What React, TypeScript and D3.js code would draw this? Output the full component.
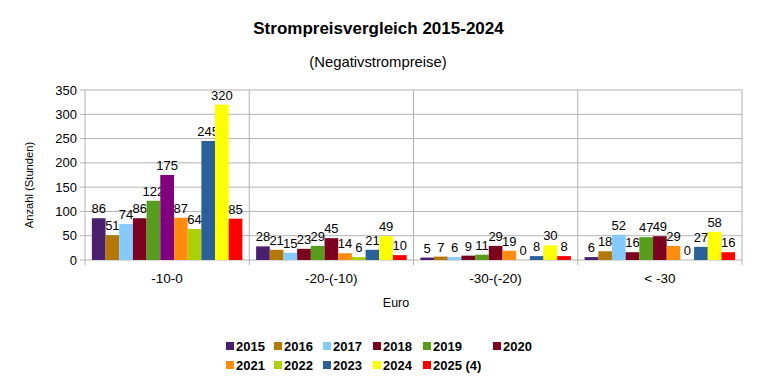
import React from "react";
import * as d3 from "d3";

const categories = ["-10-0", "-20-(-10)", "-30-(-20)", "< -30"];
const seriesNames = ["2015", "2016", "2017", "2018", "2019", "2020", "2021", "2022", "2023", "2024", "2025 (4)"];
const s2015 = [86, 28, 5, 6];
const s2016 = [51, 21, 7, 18];
const s2017 = [74, 15, 6, 52];
const s2018 = [86, 23, 9, 16];
const s2019 = [122, 29, 11, 47];
const s2020 = [175, 45, 29, 49];
const s2021 = [87, 14, 19, 29];
const s2022 = [64, 6, 0, 0];
const s2023 = [245, 21, 8, 27];
const s2024 = [320, 49, 30, 58];
const s2025 = [85, 10, 8, 16];
const seriesValues = [s2015, s2016, s2017, s2018, s2019, s2020, s2021, s2022, s2023, s2024, s2025];
const colors = ["#4b1f6f", "#b47804", "#83caff", "#7e0021", "#579d1c", "#7e0021", "#ff8c0e", "#aecf00", "#2a6099", "#ffff00", "#ff0000"];
const yTicks = [0, 50, 100, 150, 200, 250, 300, 350];

const W = 757, H = 379;
const L = 85, R = 742, T = 90, B = 260;
const FONT = "'Liberation Sans', Arial, sans-serif";

export default function App() {
  const x0 = d3.scaleBand().domain(categories).range([L, R]).paddingInner(0).paddingOuter(0);
  const x1 = d3.scaleBand().domain(seriesNames).range([0, x0.bandwidth()]).paddingOuter(0.5);
  const y = d3.scaleLinear().domain([0, 350]).range([B, T]);
  const bw = x1.bandwidth();

  const legendCols = [226, 274, 323, 373, 423, 493];
  const legendRows = [346, 365];
  const legendPos = seriesNames.map((n, i) => {
    if (i <= 5) return { x: legendCols[i], y: legendRows[0] };
    return { x: legendCols[i - 6], y: legendRows[1] };
  });

  return (
    <svg width={W} height={H} style={{ position: "absolute", left: 0, top: 0, fontFamily: FONT }}>
      <rect width={W} height={H} fill="#fff" />
      <text x={378.5} y={34} textAnchor="middle" fontSize={17} fontWeight="bold">Strompreisvergleich 2015-2024</text>
      <text x={378} y={67} textAnchor="middle" fontSize={14.8}>(Negativstrompreise)</text>
      {yTicks.map((t) => (
        <g key={t}>
          <line x1={L} x2={R} y1={y(t)} y2={y(t)} stroke="#b3b3b3" strokeWidth={1} />
          <line x1={L - 5} x2={L} y1={y(t)} y2={y(t)} stroke="#b3b3b3" />
          <text x={L - 8} y={y(t)} dy="0.35em" textAnchor="end" fontSize={13}>{t}</text>
        </g>
      ))}
      {categories.map((c) => (
        <line key={c} x1={x0(c)!} x2={x0(c)!} y1={T} y2={B + 5} stroke="#b3b3b3" />
      ))}
      <line x1={R} x2={R} y1={T} y2={B + 5} stroke="#b3b3b3" />
      {seriesNames.map((s, si) =>
        categories.map((c, ci) => {
          const v = seriesValues[si][ci];
          const xx = x0(c)! + x1(s)!;
          const fill = si === 5 && ci === 0 ? "#800080" : colors[si];
          return (
            <g key={s + c}>
              <rect x={xx} y={y(v)} width={bw} height={B - y(v)} fill={fill} />
              <text x={xx + bw / 2} y={y(v) - 5} textAnchor="middle" fontSize={13}>{v}</text>
            </g>
          );
        })
      )}
      {categories.map((c) => (
        <text key={c} x={x0(c)! + x0.bandwidth() / 2} y={283} textAnchor="middle" fontSize={13.5}>{c}</text>
      ))}
      <text x={396} y={307} textAnchor="middle" fontSize={12.5}>Euro</text>
      <text transform={`translate(33,185) rotate(-90)`} textAnchor="middle" fontSize={11.2}>Anzahl (Stunden)</text>
      {seriesNames.map((s, i) => (
        <g key={s}>
          <rect x={legendPos[i].x} y={legendPos[i].y - 4} width={8} height={8} fill={colors[i]} />
          <text x={legendPos[i].x + 10} y={legendPos[i].y} dy="0.35em" fontSize={13} fontWeight="bold">{s}</text>
        </g>
      ))}
    </svg>
  );
}
